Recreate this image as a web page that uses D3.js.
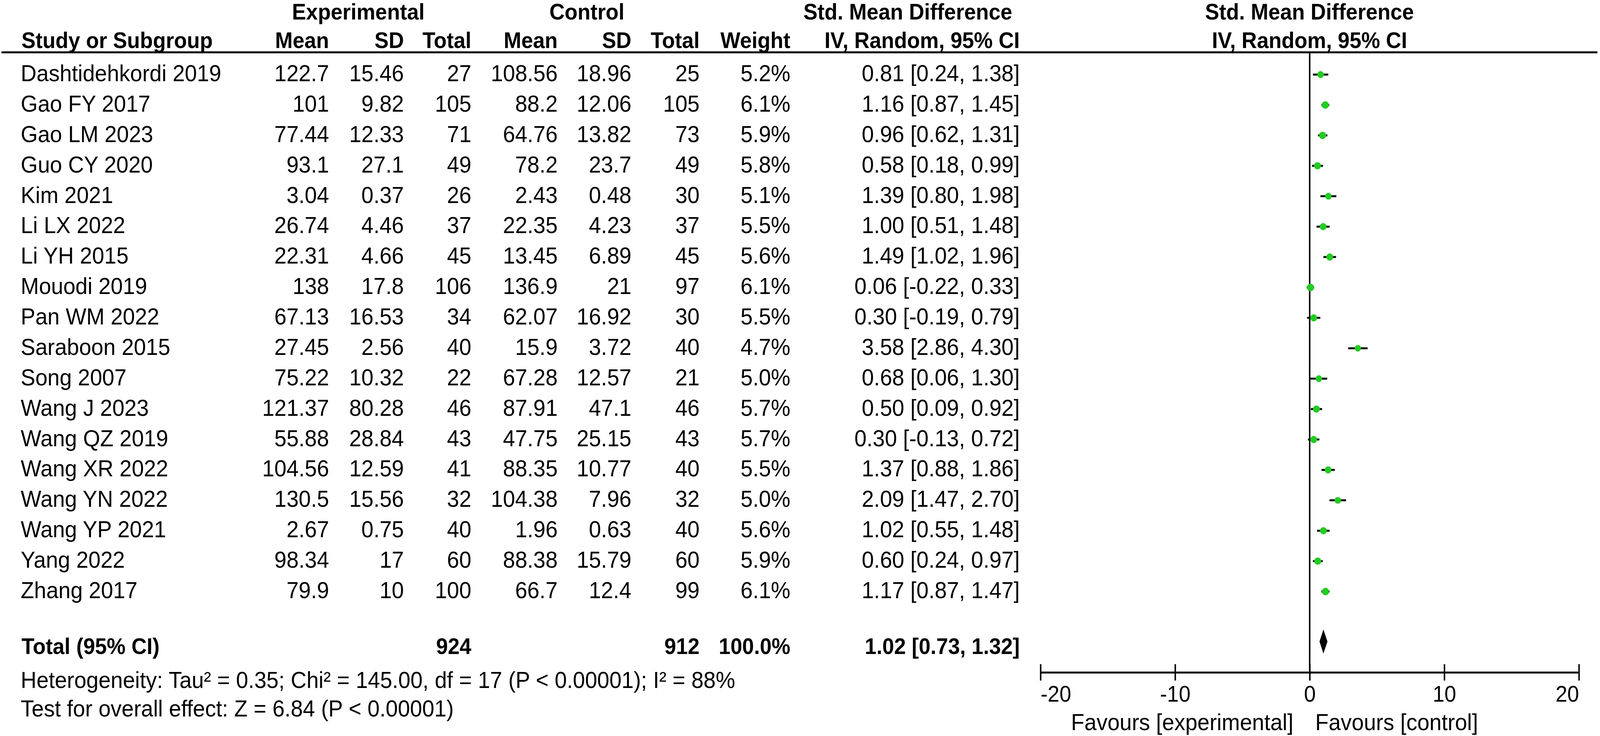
<!DOCTYPE html>
<html>
<head>
<meta charset="utf-8">
<script src="https://cdn.jsdelivr.net/npm/d3@7"></script>
<style>
  html, body { margin: 0; padding: 0; background: #fff; overflow: hidden; }
  svg { display: block; width: 100vw; height: 100vh; font-family: "Liberation Sans", Arial, sans-serif; }
</style>
</head>
<body>
<svg id="chart" viewBox="0 0 4318 1885" preserveAspectRatio="none"></svg>
<script>
// forest plot data
const studies = ["Dashtidehkordi 2019", "Gao FY 2017", "Gao LM 2023", "Guo CY 2020", "Kim 2021",
    "Li LX 2022", "Li YH 2015", "Mouodi 2019", "Pan WM 2022", "Saraboon 2015", "Song 2007",
    "Wang J 2023", "Wang QZ 2019", "Wang XR 2022", "Wang YN 2022", "Wang YP 2021", "Yang 2022", "Zhang 2017"];
const expMean = [122.7, 101, 77.44, 93.1, 3.04, 26.74, 22.31, 138, 67.13, 27.45, 75.22, 121.37, 55.88, 104.56, 130.5, 2.67, 98.34, 79.9];
const expSD = [15.46, 9.82, 12.33, 27.1, 0.37, 4.46, 4.66, 17.8, 16.53, 2.56, 10.32, 80.28, 28.84, 12.59, 15.56, 0.75, 17, 10];
const expN = [27, 105, 71, 49, 26, 37, 45, 106, 34, 40, 22, 46, 43, 41, 32, 40, 60, 100];
const ctrlMean = [108.56, 88.2, 64.76, 78.2, 2.43, 22.35, 13.45, 136.9, 62.07, 15.9, 67.28, 87.91, 47.75, 88.35, 104.38, 1.96, 88.38, 66.7];
const ctrlSD = [18.96, 12.06, 13.82, 23.7, 0.48, 4.23, 6.89, 21, 16.92, 3.72, 12.57, 47.1, 25.15, 10.77, 7.96, 0.63, 15.79, 12.4];
const ctrlN = [25, 105, 73, 49, 30, 37, 45, 97, 30, 40, 21, 46, 43, 40, 32, 40, 60, 99];
const weight = [5.2, 6.1, 5.9, 5.8, 5.1, 5.5, 5.6, 6.1, 5.5, 4.7, 5.0, 5.7, 5.7, 5.5, 5.0, 5.6, 5.9, 6.1];
const smd = [0.81, 1.16, 0.96, 0.58, 1.39, 1.00, 1.49, 0.06, 0.30, 3.58, 0.68, 0.50, 0.30, 1.37, 2.09, 1.02, 0.60, 1.17];
const ciLow = [0.24, 0.87, 0.62, 0.18, 0.80, 0.51, 1.02, -0.22, -0.19, 2.86, 0.06, 0.09, -0.13, 0.88, 1.47, 0.55, 0.24, 0.87];
const ciHigh = [1.38, 1.45, 1.31, 0.99, 1.98, 1.48, 1.96, 0.33, 0.79, 4.30, 1.30, 0.92, 0.72, 1.86, 2.70, 1.48, 0.97, 1.47];

const total = { expN: 924, ctrlN: 912, weight: 100.0, smd: 1.02, lo: 0.73, hi: 1.32 };
const axisTicks = [-20, -10, 0, 10, 20];
const heterogeneity = "Heterogeneity: Tau\u00b2 = 0.35; Chi\u00b2 = 145.00, df = 17 (P < 0.00001); I\u00b2 = 88%";
const overallTest = "Test for overall effect: Z = 6.84 (P < 0.00001)";

const FS = 59;       // regular text
const FS_BOLD = 57;  // headers and totals
const GREEN = "#22cc22";

const svg = d3.select("#chart");
svg.append("rect").attr("width", 4318).attr("height", 1885).attr("fill", "#fff");

const x = d3.scaleLinear().domain([-20, 20]).range([2808, 4261]);
const y = d3.scaleLinear().domain([0, studies.length - 1]).range([191, 1515]);
const rowBase = i => y(i) + 17;

function txt(px, py, s, anchor, bold) {
    svg.append("text")
        .attr("x", px)
        .attr("y", py)
        .attr("text-anchor", anchor || "start")
        .attr("font-size", bold ? FS_BOLD : FS)
        .attr("font-weight", bold ? "bold" : "normal")
        .attr("fill", "#000")
        .text(s);
}

// column right edges
const col = { em: 888, es: 1090, en: 1272, cm: 1505, cs: 1704, cn: 1888, w: 2133, ci: 2752 };

// headers
txt(967, 50, "Experimental", "middle", true);
txt(1584, 50, "Control", "middle", true);
txt(2450, 50, "Std. Mean Difference", "middle", true);
txt(3534, 50, "Std. Mean Difference", "middle", true);
txt(58, 123, "Study or Subgroup", "start", true);
txt(col.em, 123, "Mean", "end", true);
txt(col.es, 123, "SD", "end", true);
txt(col.en, 123, "Total", "end", true);
txt(col.cm, 123, "Mean", "end", true);
txt(col.cs, 123, "SD", "end", true);
txt(col.cn, 123, "Total", "end", true);
txt(col.w, 123, "Weight", "end", true);
txt(col.ci, 123, "IV, Random, 95% CI", "end", true);
txt(3534, 123, "IV, Random, 95% CI", "middle", true);

svg.append("line")
    .attr("x1", 4).attr("x2", 4311).attr("y1", 134).attr("y2", 134)
    .attr("stroke", "#000").attr("stroke-width", 5);

// study rows
studies.forEach((s, i) => {
    const b = rowBase(i);
    txt(56, b, s, "start");
    txt(col.em, b, String(expMean[i]), "end");
    txt(col.es, b, String(expSD[i]), "end");
    txt(col.en, b, String(expN[i]), "end");
    txt(col.cm, b, String(ctrlMean[i]), "end");
    txt(col.cs, b, String(ctrlSD[i]), "end");
    txt(col.cn, b, String(ctrlN[i]), "end");
    txt(col.w, b, weight[i].toFixed(1) + "%", "end");
    txt(col.ci, b, `${smd[i].toFixed(2)} [${ciLow[i].toFixed(2)}, ${ciHigh[i].toFixed(2)}]`, "end");
});

// total row and footnotes
const totalBase = 1675;
txt(58, totalBase, "Total (95% CI)", "start", true);
txt(col.en, totalBase, String(total.expN), "end", true);
txt(col.cn, totalBase, String(total.ctrlN), "end", true);
txt(col.w, totalBase, total.weight.toFixed(1) + "%", "end", true);
txt(col.ci, totalBase, `${total.smd.toFixed(2)} [${total.lo.toFixed(2)}, ${total.hi.toFixed(2)}]`, "end", true);
txt(56, 1762, heterogeneity, "start");
txt(56, 1835, overallTest, "start");

// plot
const axisY = 1722;

svg.append("line")
    .attr("x1", x(0)).attr("x2", x(0)).attr("y1", 134).attr("y2", axisY)
    .attr("stroke", "#000").attr("stroke-width", 4);

const rows = svg.append("g");
rows.selectAll("line.ci")
    .data(studies)
    .join("line")
    .attr("class", "ci")
    .attr("x1", (d, i) => x(ciLow[i]))
    .attr("x2", (d, i) => x(ciHigh[i]))
    .attr("y1", (d, i) => y(i))
    .attr("y2", (d, i) => y(i))
    .attr("stroke", "#000")
    .attr("stroke-width", 5);

rows.selectAll("circle")
    .data(studies)
    .join("circle")
    .attr("cx", (d, i) => x(smd[i]))
    .attr("cy", (d, i) => y(i))
    .attr("r", (d, i) => 3.9 * Math.sqrt(weight[i]))
    .attr("fill", GREEN);

// pooled diamond
const dy = 1643;
svg.append("path")
    .attr("d", `M${x(total.lo)},${dy} L${x(total.smd)},${dy - 31} L${x(total.hi)},${dy} L${x(total.smd)},${dy + 31} Z`)
    .attr("fill", "#000");

const axis = d3.axisBottom(x).tickValues(axisTicks).tickFormat(d => String(d)).tickSizeOuter(0).tickPadding(0);
const ag = svg.append("g").attr("transform", `translate(0,${axisY})`).call(axis);
ag.select(".domain").attr("stroke-width", 5).attr("stroke", "#000");
ag.selectAll(".tick line").attr("y1", -21).attr("y2", 21).attr("stroke-width", 4).attr("stroke", "#000");
ag.selectAll(".tick text")
    .attr("font-family", null)
    .attr("font-size", FS_BOLD)
    .attr("fill", "#000")
    .attr("dy", null)
    .attr("y", 1797 - axisY)
    .attr("text-anchor", (d, i) => i === 0 ? "start" : (i === axisTicks.length - 1 ? "end" : "middle"));

txt(x(0) - 44, 1870, "Favours [experimental]", "end");
txt(x(0) + 15, 1870, "Favours [control]", "start");
</script>
</body>
</html>
